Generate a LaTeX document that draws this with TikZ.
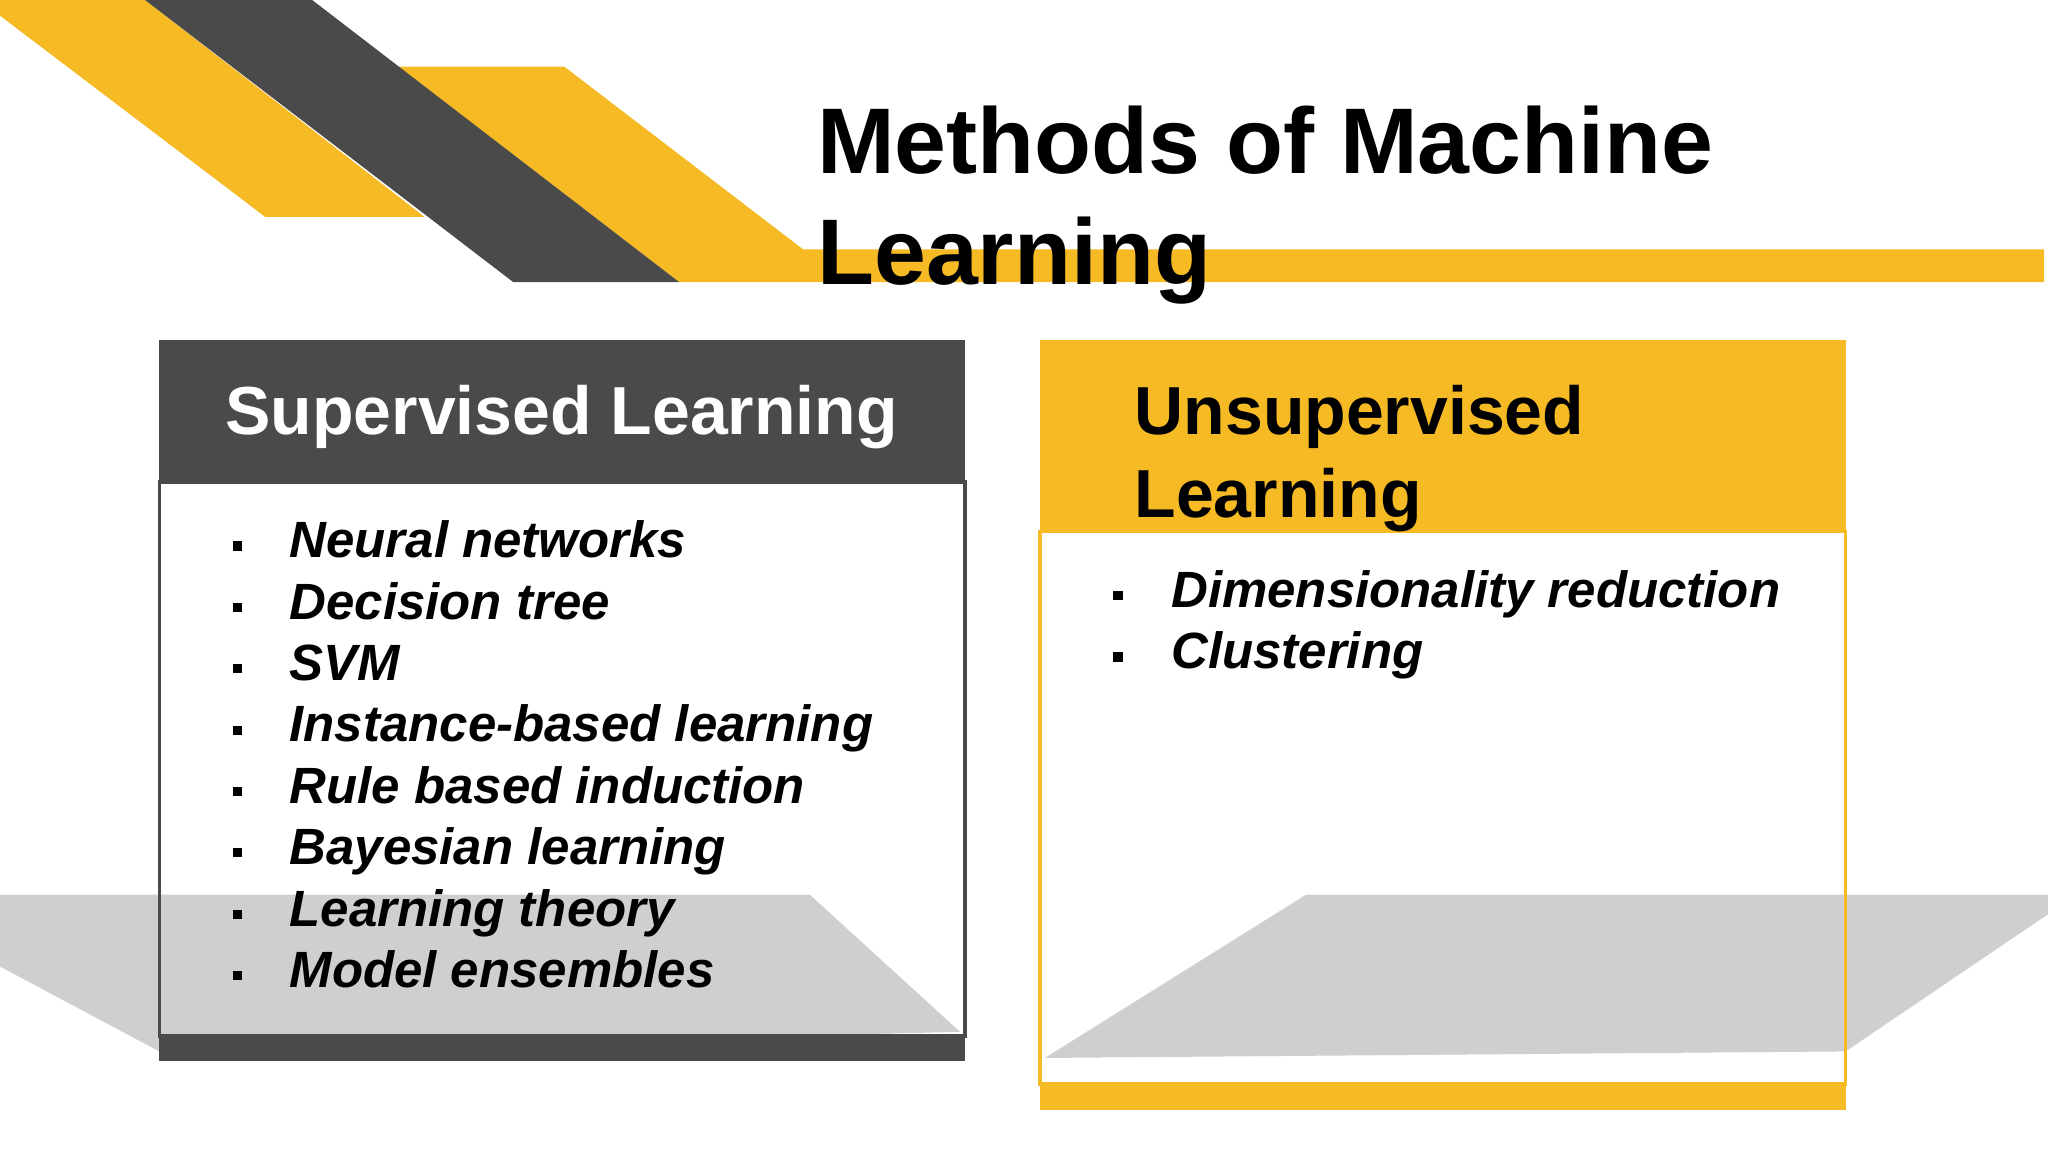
\documentclass[tikz,border=0pt]{standalone}
\usepackage{fontspec}
\setmainfont{Liberation Sans}
\definecolor{ylw}{HTML}{F5BA24}
\definecolor{drk}{HTML}{4A4A4A}
\definecolor{shd}{HTML}{CFCFCF}
\begin{document}
\begin{tikzpicture}[x=0.01cm,y=-0.01cm,
  item/.style={anchor=base west,font=\fontsize{11.1}{13}\selectfont\bfseries\itshape,inner sep=0},
  bul/.style={fill=black,minimum size=0.07cm,inner sep=0},
  head/.style={anchor=base west,font=\fontsize{14.8}{18}\selectfont\bfseries,inner sep=0},
  ttl/.style={anchor=base west,inner sep=0,font=\fontsize{20.3}{24}\selectfont\bfseries}]
\useasboundingbox (0,0) rectangle (1568,882);
\fill[white] (0,0) rectangle (1568,882);
% top decorations
\fill[ylw] (0,0) -- (111,0) -- (325,166) -- (203,166) -- (0,12) -- cycle;
\fill[ylw] (305,51) -- (432,51) -- (615,191) -- (1565,191) -- (1565,216) -- (520,216) -- cycle;
\fill[drk] (111,0) -- (239,0) -- (520,216) -- (393,216) -- cycle;
% title
\node[ttl] (title1) at (625,133) {Methods of Machine};
\node[ttl] (title2) at (625,218) {Learning};
% box bodies
\fill[drk] (122,260) rectangle (739,369);
\fill[white] (122,369) rectangle (739,793);
\fill[ylw] (796,260) rectangle (1413,407);
\fill[white] (796,407) rectangle (1413,830);
% shadows
\fill[shd] (0,685) -- (620,685) -- (735,790) -- (122,805) -- (0,740) -- cycle;
\fill[shd] (1000,685) -- (1568,685) -- (1568,700) -- (1413,805) -- (800,810) -- cycle;
\fill[drk] (122,793) rectangle (739,812);
\fill[ylw] (796,830) rectangle (1413,850);
\draw[drk,line width=0.8pt] (122,369) rectangle (739,793);
\draw[ylw,line width=0.8pt] (796,407) rectangle (1413,830);
% headers
\node[head,white,anchor=base] (sup) at (430,333) {Supervised Learning};
\node[head] (uns1) at (868,333) {Unsupervised};
\node[head] (uns2) at (868,396) {Learning};
% items
\foreach \t [count=\i] in {Neural networks,Decision tree,SVM,Instance-based learning,Rule based induction,Bayesian learning,Learning theory,Model ensembles}{
  \node[bul] (lb\i) at (182,{427+47*(\i-1)-9}) {};
  \node[item] (li\i) at (221,{427+47*(\i-1)}) {\t};
}
\foreach \t [count=\i] in {Dimensionality reduction,Clustering}{
  \node[bul] (rb\i) at (856,{465+47*(\i-1)-9}) {};
  \node[item] (ri\i) at (896,{465+47*(\i-1)}) {\t};
}
\end{tikzpicture}
\end{document}
